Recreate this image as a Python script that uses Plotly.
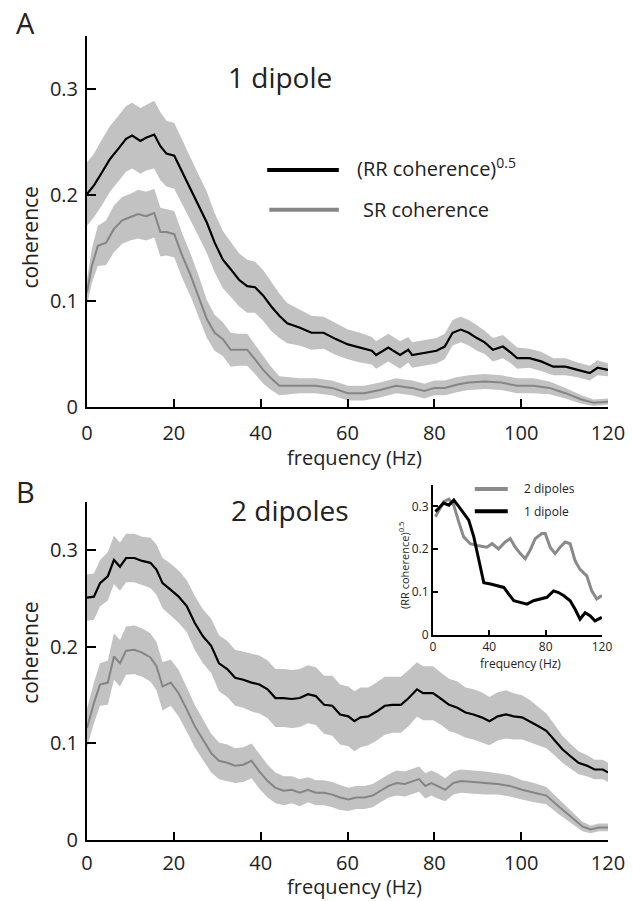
import numpy as np
import plotly.graph_objects as go

# ---- panel A: 1 dipole ----
rr1_freq = [0, 1.6, 3.4, 5.3, 7.1, 9, 10.4, 12.3, 13.6, 15.5, 16.9, 18.3, 20.1,
            22, 23.9, 25.7, 27.6, 29.4, 31.3, 33.1, 35, 36.9, 38.7, 40.6, 42.4,
            44.3, 46.1, 48.9, 51.7, 54.5, 57.3, 60.1, 62.9, 65.6, 66.6, 69.4,
            72.1, 74, 74.9, 77.7, 80.5, 82.4, 84.2, 86.1, 87.9, 89.8, 91.6, 93.5,
            95.8, 97.7, 99.1, 101.9, 104.6, 107.4, 110.2, 113, 115.8, 117.6, 120]
rr1_mean = [0.201, 0.209, 0.221, 0.234, 0.243, 0.253, 0.256, 0.251, 0.254, 0.257,
            0.246, 0.239, 0.237, 0.221, 0.205, 0.190, 0.174, 0.155, 0.139, 0.130,
            0.120, 0.114, 0.113, 0.105, 0.095, 0.086, 0.079, 0.075, 0.070, 0.070,
            0.064, 0.059, 0.056, 0.053, 0.049, 0.056, 0.049, 0.054, 0.049, 0.051,
            0.053, 0.057, 0.070, 0.073, 0.070, 0.065, 0.061, 0.054, 0.057, 0.051,
            0.046, 0.046, 0.043, 0.038, 0.038, 0.035, 0.032, 0.037, 0.035]
rr1_sem = [0.030, 0.030, 0.031, 0.031, 0.031, 0.031, 0.031, 0.031, 0.031, 0.032,
           0.032, 0.031, 0.031, 0.030, 0.030, 0.029, 0.029, 0.028, 0.027, 0.026,
           0.025, 0.025, 0.024, 0.024, 0.023, 0.021, 0.019, 0.017, 0.016, 0.015,
           0.015, 0.014, 0.014, 0.013, 0.013, 0.013, 0.013, 0.012, 0.012, 0.012,
           0.012, 0.012, 0.012, 0.012, 0.012, 0.012, 0.011, 0.011, 0.011, 0.010,
           0.010, 0.009, 0.009, 0.008, 0.008, 0.007, 0.007, 0.007, 0.006]

sr1_freq = [0, 1.1, 2.5, 4.4, 6.2, 8.1, 9.9, 11.8, 13.6, 15.5, 16.9, 18.3, 20.1,
            22, 23.9, 25.7, 27.6, 29.4, 31.3, 33.1, 35, 36.9, 38.7, 40.6, 42.4,
            44.3, 46.1, 48.9, 52.6, 56.4, 60.1, 63.8, 67.5, 71.2, 74.9, 77.7, 80,
            82.4, 85.1, 87.9, 91.6, 95.4, 99.1, 102.8, 106.5, 110.2, 113.9, 116.7, 120]
sr1_mean = [0.108, 0.133, 0.152, 0.155, 0.168, 0.176, 0.179, 0.182, 0.180, 0.183,
            0.165, 0.165, 0.163, 0.142, 0.124, 0.105, 0.083, 0.070, 0.064, 0.054,
            0.054, 0.054, 0.045, 0.035, 0.027, 0.020, 0.020, 0.020, 0.020, 0.018,
            0.013, 0.013, 0.016, 0.020, 0.018, 0.015, 0.018, 0.018, 0.021, 0.023,
            0.024, 0.023, 0.020, 0.020, 0.018, 0.013, 0.007, 0.004, 0.005]
sr1_sem = [0.012, 0.016, 0.019, 0.021, 0.022, 0.022, 0.022, 0.023, 0.023, 0.023,
           0.023, 0.022, 0.022, 0.021, 0.020, 0.019, 0.018, 0.017, 0.016, 0.016,
           0.015, 0.015, 0.014, 0.013, 0.011, 0.009, 0.008, 0.007, 0.007, 0.007,
           0.007, 0.007, 0.007, 0.007, 0.007, 0.007, 0.007, 0.007, 0.007, 0.007,
           0.007, 0.007, 0.007, 0.007, 0.006, 0.005, 0.004, 0.003, 0.003]

# ---- panel B: 2 dipoles ----
rr2_freq = [0, 1.6, 3, 4.8, 6.2, 7.6, 9, 10.9, 12.7, 14.6, 16, 17.4, 19.3, 21.1,
            23, 24.8, 26.7, 28.6, 30.4, 32.3, 34.1, 36, 37.9, 39.7, 41.6, 43.4,
            45.3, 47.2, 49, 50.9, 52.7, 54.6, 56.5, 58.3, 60.2, 61.6, 63, 64.8,
            66.7, 68.6, 70.4, 72.3, 74.1, 76, 77.4, 79.7, 81.6, 83.4, 85.3, 87.2,
            89, 90.9, 92.7, 94.6, 96.5, 98.3, 100.2, 102, 103.9, 105.8, 107.6,
            109.5, 111.3, 113.2, 115.1, 116.9, 118.8, 120]
rr2_mean = [0.251, 0.252, 0.266, 0.273, 0.290, 0.283, 0.292, 0.292, 0.289, 0.287,
            0.280, 0.266, 0.259, 0.252, 0.242, 0.225, 0.211, 0.201, 0.183, 0.177,
            0.168, 0.166, 0.163, 0.161, 0.156, 0.147, 0.147, 0.146, 0.147, 0.151,
            0.149, 0.140, 0.139, 0.130, 0.128, 0.123, 0.127, 0.128, 0.133, 0.139,
            0.140, 0.140, 0.147, 0.156, 0.152, 0.152, 0.146, 0.140, 0.137, 0.132,
            0.130, 0.127, 0.123, 0.128, 0.130, 0.128, 0.127, 0.123, 0.118, 0.113,
            0.104, 0.094, 0.087, 0.080, 0.077, 0.073, 0.073, 0.070]
rr2_sem = [0.024, 0.024, 0.024, 0.025, 0.025, 0.025, 0.025, 0.025, 0.025, 0.026,
           0.026, 0.026, 0.027, 0.027, 0.027, 0.028, 0.028, 0.028, 0.029, 0.029,
           0.029, 0.029, 0.030, 0.030, 0.030, 0.030, 0.030, 0.030, 0.030, 0.030,
           0.030, 0.030, 0.031, 0.031, 0.031, 0.031, 0.031, 0.030, 0.030, 0.030,
           0.029, 0.029, 0.029, 0.028, 0.028, 0.028, 0.027, 0.027, 0.027, 0.026,
           0.026, 0.026, 0.025, 0.025, 0.025, 0.024, 0.023, 0.022, 0.020, 0.018,
           0.016, 0.014, 0.013, 0.012, 0.011, 0.010, 0.010, 0.010]

sr2_freq = [0, 1.6, 3, 4.8, 6.2, 7.6, 9, 10.9, 12.7, 14.6, 16, 17.4, 19.3, 21.1,
            23, 24.8, 26.7, 28.6, 30.4, 32.3, 34.1, 36, 37.9, 39.7, 41.6, 43.4,
            45.3, 47.2, 49, 50.9, 52.7, 54.6, 56.5, 58.3, 60.2, 62, 63.9, 65.8,
            67.6, 69.5, 71.3, 73.2, 75.1, 76.5, 77.9, 79.3, 80.7, 82.5, 84.4, 86.2,
            89, 91.8, 94.6, 97.4, 100.2, 103, 105.8, 108.6, 111.3, 114.1, 116,
            117.9, 120]
sr2_mean = [0.116, 0.142, 0.161, 0.163, 0.190, 0.183, 0.196, 0.197, 0.194, 0.189,
            0.180, 0.159, 0.163, 0.152, 0.135, 0.118, 0.104, 0.090, 0.082, 0.080,
            0.077, 0.078, 0.082, 0.071, 0.061, 0.054, 0.051, 0.052, 0.049, 0.052,
            0.049, 0.049, 0.047, 0.044, 0.042, 0.044, 0.044, 0.046, 0.051, 0.056,
            0.059, 0.058, 0.061, 0.063, 0.056, 0.059, 0.056, 0.052, 0.059, 0.061,
            0.060, 0.059, 0.058, 0.056, 0.052, 0.049, 0.046, 0.035, 0.025, 0.014,
            0.011, 0.013, 0.013]
sr2_sem = [0.020, 0.021, 0.022, 0.023, 0.024, 0.024, 0.025, 0.025, 0.025, 0.025,
           0.025, 0.025, 0.024, 0.024, 0.023, 0.022, 0.021, 0.020, 0.019, 0.019,
           0.018, 0.018, 0.018, 0.018, 0.017, 0.016, 0.015, 0.014, 0.014, 0.013,
           0.013, 0.013, 0.013, 0.013, 0.012, 0.012, 0.012, 0.012, 0.012, 0.012,
           0.013, 0.013, 0.013, 0.013, 0.013, 0.013, 0.013, 0.012, 0.012, 0.012,
           0.012, 0.012, 0.011, 0.011, 0.010, 0.010, 0.009, 0.008, 0.007, 0.005,
           0.004, 0.004, 0.004]

# ---- inset: (RR coherence)^0.5, 2 dipoles vs 1 dipole ----
inset2_freq = [1.8, 7.6, 11.3, 14.8, 18.3, 21.8, 26.5, 31.3, 38.3, 42, 46.6, 51.3,
               54.9, 58.4, 62, 65.5, 69, 72.6, 77.3, 79.7, 83.2, 86.7, 90.3, 93.8,
               97.4, 100.9, 104.4, 109.2, 112.7, 116.3, 119.9]
inset2_val = [0.276, 0.311, 0.317, 0.303, 0.264, 0.229, 0.213, 0.209, 0.205, 0.213,
              0.201, 0.217, 0.225, 0.205, 0.190, 0.178, 0.198, 0.225, 0.237, 0.237,
              0.205, 0.190, 0.205, 0.217, 0.213, 0.173, 0.153, 0.138, 0.103, 0.084,
              0.092]
inset1_freq = [1.8, 7.6, 11.3, 14.8, 18.3, 21.8, 25.4, 29, 32.5, 36.1, 40.9, 45.6,
               50.3, 53.9, 57.4, 62, 66.7, 71.4, 76.1, 80.9, 85.6, 89.1, 92.7, 97.4,
               100.9, 104.4, 108, 111.5, 115, 119.9]
inset1_val = [0.288, 0.308, 0.303, 0.315, 0.300, 0.284, 0.268, 0.229, 0.173, 0.122,
              0.119, 0.115, 0.111, 0.095, 0.080, 0.076, 0.072, 0.080, 0.084, 0.088,
              0.103, 0.099, 0.092, 0.080, 0.060, 0.037, 0.052, 0.045, 0.033, 0.041]

y_ticks = [0, 0.1, 0.2, 0.3]
y_ticktext = ['0', '0.1', '0.2', '0.3']
x_ticks = [0, 20, 40, 60, 80, 100, 120]
inset_x_ticks = [0, 40, 80, 120]

BAND = '#c2c2c2'
GRAY = '#858585'
FONT = 'Open Sans'

fig = go.Figure()


def add_band(freq, mean, sem, xa, ya):
    f = np.array(freq)
    m = np.array(mean)
    s = np.array(sem)
    fig.add_trace(go.Scatter(
        x=np.concatenate([f, f[::-1]]),
        y=np.concatenate([m + s, (m - s)[::-1]]),
        fill='toself', fillcolor=BAND, line=dict(width=0),
        mode='lines', hoverinfo='skip', showlegend=False,
        xaxis=xa, yaxis=ya
    ))


def add_line(freq, vals, color, width, xa, ya):
    fig.add_trace(go.Scatter(
        x=freq, y=vals, mode='lines',
        line=dict(color=color, width=width),
        showlegend=False, xaxis=xa, yaxis=ya
    ))


# 밴드 먼저, 선은 위에
add_band(rr1_freq, rr1_mean, rr1_sem, 'x', 'y')
add_band(sr1_freq, sr1_mean, sr1_sem, 'x', 'y')
add_line(sr1_freq, sr1_mean, GRAY, 2, 'x', 'y')
add_line(rr1_freq, rr1_mean, 'black', 2.2, 'x', 'y')

add_band(rr2_freq, rr2_mean, rr2_sem, 'x2', 'y2')
add_band(sr2_freq, sr2_mean, sr2_sem, 'x2', 'y2')
add_line(sr2_freq, sr2_mean, GRAY, 2, 'x2', 'y2')
add_line(rr2_freq, rr2_mean, 'black', 2.2, 'x2', 'y2')

add_line(inset2_freq, inset2_val, '#8a8a8a', 3, 'x3', 'y3')
add_line(inset1_freq, inset1_val, 'black', 3, 'x3', 'y3')

main_x = dict(range=[0, 120], tickvals=x_ticks, ticks='inside', ticklen=8,
              tickwidth=2, tickcolor='black', showline=True, linecolor='black',
              linewidth=2, showgrid=False, zeroline=False, automargin=False,
              tickfont=dict(family=FONT, size=20, color='#222'),
              ticklabelstandoff=7)
main_y = dict(range=[0, 0.35], tickvals=y_ticks, ticktext=y_ticktext,
              ticks='inside', ticklen=9, tickwidth=2, tickcolor='black',
              showline=True, linecolor='black', linewidth=2, showgrid=False,
              zeroline=False, automargin=False,
              tickfont=dict(family=FONT, size=20, color='#222'),
              ticklabelstandoff=3)

inset_x = dict(range=[0, 120], tickvals=inset_x_ticks, ticks='inside', ticklen=5,
               tickwidth=2, tickcolor='black', showline=True, linecolor='black',
               linewidth=2, showgrid=False, zeroline=False, automargin=False,
               tickfont=dict(family=FONT, size=12, color='#222'),
               domain=[0.664, 0.9885], anchor='y3')
inset_y = dict(range=[0, 0.35], tickvals=y_ticks, ticktext=y_ticktext,
               ticks='inside', ticklen=5, tickwidth=2, tickcolor='black',
               showline=True, linecolor='black', linewidth=2, showgrid=False,
               zeroline=False, automargin=False,
               tickfont=dict(family=FONT, size=12, color='#222'),
               domain=[0.255, 0.4415], anchor='x3')

fig.update_layout(
    width=633, height=901,
    margin=dict(l=87, r=25, t=36, b=61),
    plot_bgcolor='white', paper_bgcolor='white',
    showlegend=False,
    xaxis=dict(main_x, domain=[0, 1], anchor='y'),
    yaxis=dict(main_y, domain=[0.5386, 1], anchor='x'),
    xaxis2=dict(main_x, domain=[0, 1], anchor='y2', ticklabelstandoff=4),
    yaxis2=dict(main_y, domain=[0, 0.4204], anchor='x2'),
    xaxis3=inset_x,
    yaxis3=inset_y,
)


def label(text, x, y, xref, yref, size, xanchor='center', **kw):
    return dict(text=text, x=x, y=y, xref=xref, yref=yref, showarrow=False,
                xanchor=xanchor, yanchor='middle',
                font=dict(family=FONT, color='#222', size=size), **kw)


annotations = [
    label('A', -0.119, 1.0174, 'paper', 'paper', 29),
    label('B', -0.119, 0.434, 'paper', 'paper', 29),
    label('1 dipole', 44.4, 0.311, 'x', 'y', 28),
    label('2 dipoles', 46.8, 0.342, 'x2', 'y2', 28),
    label('coherence', -0.109, 0.160, 'paper', 'y', 21, textangle=-90),
    label('coherence', -0.111, 0.194, 'paper', 'y2', 21, textangle=-90),
    label('frequency (Hz)', 61.5, (840 - 457) / 804, 'x', 'paper', 20),
    label('frequency (Hz)', 61.5, (840 - 887) / 804, 'x2', 'paper', 20),
    label('(RR coherence)<sup>0.5</sup>', 61.7, 0.226, 'x', 'y', 20,
          xanchor='left'),
    label('SR coherence', 63.1, 0.186, 'x', 'y', 20, xanchor='left'),
    label('2 dipoles', 63, 0.341, 'x3', 'y3', 12, xanchor='left'),
    label('1 dipole', 63, 0.289, 'x3', 'y3', 12, xanchor='left'),
    # 인셋 축 제목 (데이터 범위 밖이라 paper 좌표 사용)
    label('frequency (Hz)', 0.833, (840 - 663) / 804, 'paper', 'paper', 12),
    label('(RR coherence)<sup>0.5</sup>', 0.6084, (840 - 565) / 804,
          'paper', 'paper', 11, textangle=-90),
]
fig.update_layout(annotations=annotations)

# 범례 선
fig.add_shape(type='line', x0=41.5, x1=58.0, y0=0.2236, y1=0.2236,
              xref='x', yref='y', line=dict(color='black', width=4))
fig.add_shape(type='line', x0=42.0, x1=58.0, y0=0.186, y1=0.186,
              xref='x', yref='y', line=dict(color=GRAY, width=4))
fig.add_shape(type='line', x0=29.7, x1=53.1, y0=0.341, y1=0.341,
              xref='x3', yref='y3', line=dict(color='#8a8a8a', width=4))
fig.add_shape(type='line', x0=29.7, x1=53.1, y0=0.289, y1=0.289,
              xref='x3', yref='y3', line=dict(color='black', width=4))

# body 기본 여백(8px) 제거 -> 그림이 창에 꼭 맞게
fig.write_html("out.html",
               config={'displayModeBar': False},
               post_script="document.body.style.margin='0';"
                           "document.body.style.overflow='hidden';")
